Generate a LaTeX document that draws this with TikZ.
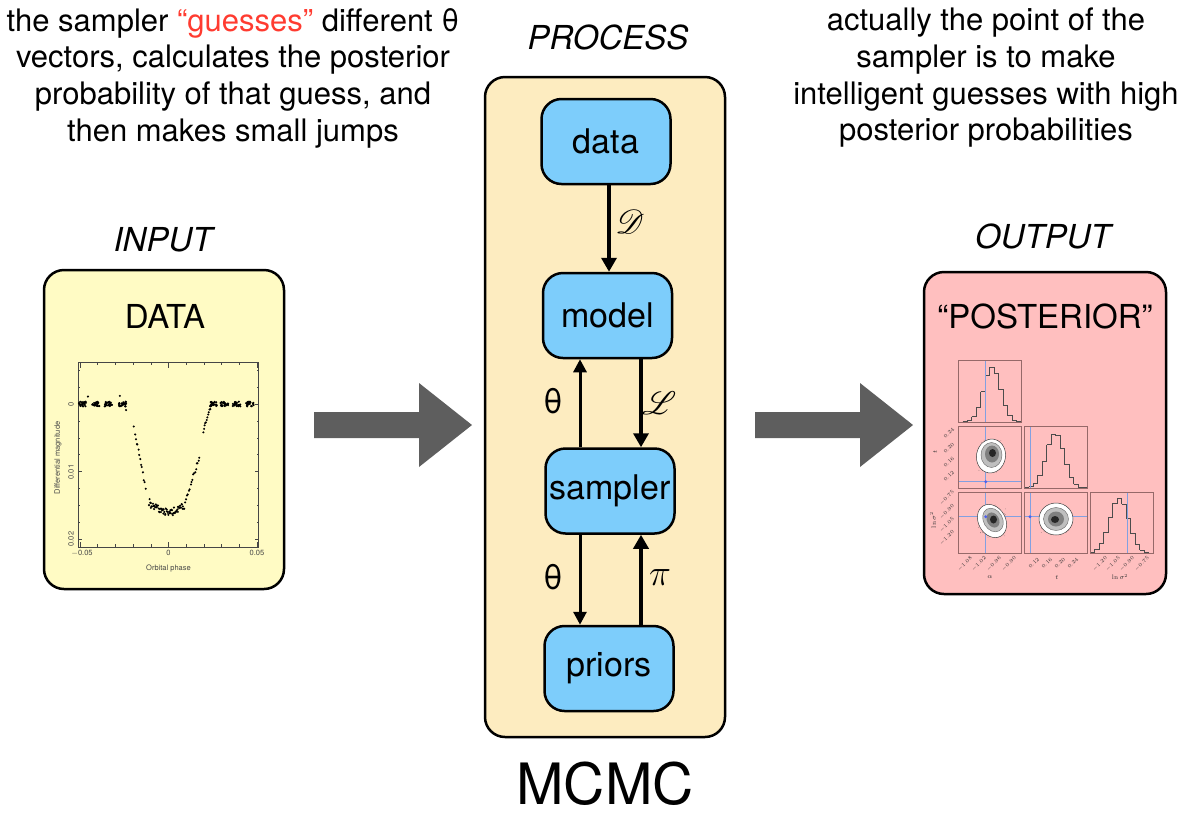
\documentclass[tikz,border=0pt]{standalone}
\usepackage{fix-cm}
\usepackage{graphicx}
\usepackage{mathrsfs}
\usepackage{fontspec}
\setsansfont{TeX Gyre Heros}
\usetikzlibrary{arrows.meta}
\definecolor{procfill}{RGB}{253,236,192}
\definecolor{infill}{RGB}{255,251,196}
\definecolor{outfill}{RGB}{255,191,191}
\definecolor{boxblue}{RGB}{125,205,251}
\definecolor{arrowgray}{RGB}{94,94,94}
\definecolor{guessred}{RGB}{255,59,48}
\definecolor{panelcol}{RGB}{150,105,105}
\definecolor{truthblue}{RGB}{130,160,225}
\definecolor{axiscol}{RGB}{70,70,70}
\newcommand\myhist[6]{%
  \foreach \i in {0,...,13}{%
    \pgfmathsetmacro\xl{#1+\i*#3/14}%
    \pgfmathsetmacro\xr{#1+(\i+1)*#3/14}%
    \pgfmathsetmacro\xc{#1+(\i+0.5)*#3/14}%
    \pgfmathsetmacro\hc{#6*exp(max(-9,-((\xc-#4)*(\xc-#4))/(2*#5*#5)))}%
    \pgfmathsetmacro\hn{#6*exp(max(-9,-((\xc+#3/14-#4)*(\xc+#3/14-#4))/(2*#5*#5)))}%
    \draw[histline] (\xl,#2-\hc) -- (\xr,#2-\hc) -- (\xr,#2-\hn);
  }}
\begin{document}
\begin{tikzpicture}[x=1pt,y=-1pt,
  toptxt/.style={font=\sffamily\fontsize{31}{36.7}\selectfont, align=center, inner sep=0},
  headtxt/.style={font=\sffamily\itshape\fontsize{33}{40}\selectfont, inner sep=0},
  titletxt/.style={font=\sffamily\fontsize{33}{40}\selectfont, inner sep=0},
  bluebox/.style={draw=black, line width=2.5pt, fill=boxblue, rounded corners=20pt,
     minimum width=129pt, minimum height=85pt, inner sep=0,
     font=\sffamily\fontsize{34}{40}\selectfont},
  bigbox/.style={draw=black, line width=2.5pt, rounded corners=20pt, inner sep=0},
  thickarrow/.style={line width=4.2pt, -{Triangle[length=14pt,width=15pt]}},
  thinarrow/.style={line width=3pt, -{Triangle[length=13pt,width=13pt]}},
  arrlbl/.style={inner sep=0, font=\sffamily\fontsize{34}{40}\selectfont},
  scrlbl/.style={inner sep=0, font=\fontsize{24.88}{26}\selectfont},
  histline/.style={draw=black!70, line width=0.6pt},
  panel/.style={draw=panelcol, line width=0.6pt},
  truth/.style={draw=truthblue, line width=0.6pt},
  tinylbl/.style={font=\fontsize{5.2}{6}\selectfont, inner sep=0, text=black!80},
  axlbl/.style={font=\fontsize{6.5}{7}\selectfont, inner sep=0, text=black!80},
  plotlbl/.style={font=\sffamily\fontsize{7.5}{8}\selectfont, inner sep=0, text=axiscol},
  dot/.style={fill=black}
]
\useasboundingbox (0,0) rectangle (1186,815);

% ---------- top texts ----------
\node[toptxt, anchor=north] (lefttxt) at (233,8) {the sampler {\color{guessred}“guesses”} different θ\\ vectors, calculates the posterior\\ probability of that guess, and\\ then makes small jumps};
\node[toptxt, anchor=north] (righttxt) at (986,8) {actually the point of the\\ sampler is to make\\ intelligent guesses with high\\ posterior probabilities};

% ---------- headings ----------
\node[headtxt] (proclbl) at (608,37) {PROCESS};
\node[headtxt] (inlbl) at (163,240) {INPUT};
\node[headtxt] (outlbl) at (1043,236) {OUTPUT};
\node[font=\sffamily\fontsize{57}{60}\selectfont, inner sep=0] (mcmc) at (605,784) {MCMC};

% ---------- process box ----------
\node[bigbox, fill=procfill, minimum width=240pt, minimum height=660pt] (proc) at (605,407) {};
\node[bluebox] (data) at (606,141.5) {data};
\node[bluebox] (model) at (607.5,315.5) {model};
\node[bluebox] (sampler) at (610,491) {sampler};
\node[bluebox] (priors) at (609,668.5) {priors};

\coordinate (colA) at (580,0);
\coordinate (colB) at (641,0);
\coordinate (colD) at (609,0);
\draw[thickarrow] (data.south -| colD) -- (model.north -| colD);
\draw[thinarrow] (sampler.north -| colA) -- (model.south -| colA);
\draw[thickarrow] (model.south -| colB) -- (sampler.north -| colB);
\draw[thinarrow] (sampler.south -| colA) -- (priors.north -| colA);
\draw[thickarrow] (priors.north -| colB) -- (sampler.south -| colB);

\node[scrlbl] (lD) at (630,222) {\scalebox{1.35}{$\mathscr{D}$}};
\node[arrlbl] (lt1) at (553,401) {θ};
\node[scrlbl] (lL) at (659,403) {\scalebox{1.3}{$\mathscr{L}$}};
\node[arrlbl] (lt2) at (553,577) {θ};
\node[inner sep=0, font=\fontsize{37}{37}\selectfont] (lpi) at (660,578) {$\pi$};

% ---------- big arrows ----------
\fill[arrowgray] (314,412) -- (419,412) -- (419,383) -- (472,425) -- (419,467) -- (419,438) -- (314,438) -- cycle;
\fill[arrowgray] (755,412) -- (860,412) -- (860,383) -- (913,425) -- (860,467) -- (860,438) -- (755,438) -- cycle;

% ---------- input box ----------
\node[bigbox, fill=infill, minimum width=240pt, minimum height=319pt] (inbox) at (164,429.5) {};
\node[titletxt] (datalbl) at (165,316) {DATA};
\begin{scope}[shift={(168.5,404)}, x=1.77pt, y=-6.75pt]
  \draw[axiscol, line width=0.6pt] (-51,-6.2) rectangle (51,21.2);
  \foreach \p in {-50,-40,...,50}{
    \draw[axiscol, line width=0.5pt] (\p,21.2) -- (\p,20.8);
    \draw[axiscol, line width=0.5pt] (\p,-6.2) -- (\p,-5.8);}
  \foreach \p in {-50,0,50}{
    \draw[axiscol, line width=0.5pt] (\p,21.2) -- (\p,20.4);
    \draw[axiscol, line width=0.5pt] (\p,-6.2) -- (\p,-5.4);}
  \foreach \m in {-5,-2.5,...,20}{
    \draw[axiscol, line width=0.5pt] (-51,\m) -- (-50,\m);
    \draw[axiscol, line width=0.5pt] (51,\m) -- (50,\m);}
  \foreach \m in {0,10,20}{
    \draw[axiscol, line width=0.5pt] (-51,\m) -- (-49,\m);
    \draw[axiscol, line width=0.5pt] (51,\m) -- (49,\m);}
  \pgfmathsetseed{7}
  \foreach \c in {-48.5,-41,-34,-26,25.5,31.5,38.5,46}{
    \foreach \k in {1,...,24}{
      \fill[dot] ({\c+2.2*rand},{0.35*rand}) circle[radius=1.15pt];}}
  \fill[dot] (-45.5,-1.1) circle[radius=1.15pt];
  \fill[dot] (-27.5,-1.2) circle[radius=1.15pt];
  \fill[dot] (-24,0.9) circle[radius=1.15pt];
  \foreach \p in {-19.5,-19,...,-13}{
    \fill[dot] ({\p+0.2*rand},{(\p+22.2)*1.35+0.4*rand}) circle[radius=1.15pt];}
  \foreach \p in {-11,-10.7,...,9}{
    \fill[dot] ({\p+0.2*rand},{16-0.012*(\p)*(\p)+0.55*rand}) circle[radius=1.15pt];}
  \foreach \p in {9.5,10,...,17.5}{
    \fill[dot] ({\p+0.2*rand},{15-(\p-9)*0.85+0.4*rand}) circle[radius=1.15pt];}
  \foreach \p in {19.6,20,...,24.4}{
    \fill[dot] ({\p+0.1*rand},{(24.5-\p)*0.8+0.3*rand}) circle[radius=1.15pt];}
\end{scope}
\node[plotlbl, rotate=90] (yt0) at (71,404) {0};
\node[plotlbl, rotate=90] (yt1) at (71,472) {0.01};
\node[plotlbl, rotate=90] (yt2) at (71,539) {0.02};
\node[plotlbl] (xt0) at (82,553) {$-$0.05};
\node[plotlbl] (xt1) at (168.5,553) {0};
\node[plotlbl] (xt2) at (257,553) {0.05};
\node[plotlbl, rotate=90] (ylab) at (58,458) {Differential magnitude};
\node[plotlbl] (xlab) at (168.5,569) {Orbital phase};

% ---------- output box ----------
\node[bigbox, fill=outfill, minimum width=242pt, minimum height=322pt] (outbox) at (1045,433) {};
\node[titletxt] (postlbl) at (1045,316) {“POSTERIOR”};

% histograms
\myhist{958}{422}{63}{992}{8.5}{55}
\myhist{1024}{488}{63}{1055}{9}{55}
\myhist{1090}{553}{63}{1119}{9.5}{55}

% scatter panels
\pgfmathsetseed{11}
\begin{scope}
  \clip (958,426) rectangle (1021,488);
  \foreach \k in {1,...,500}{
    \fill[black!70] ({991+5.5*(rand+rand+rand)},{456+6.5*(rand+rand+rand)}) circle[radius=0.3pt];}
  \draw[truth] (985.7,426) -- (985.7,488);
  \draw[truth] (958,481.7) -- (1021,481.7);
  \fill[truthblue!60!blue] (985.7,481.7) circle[radius=1.6pt];
  \filldraw[fill=white, draw=black!75, line width=0.5pt, rotate around={-10:(991,456)}] (991,456) ellipse[x radius=14.5pt, y radius=17pt];
  \filldraw[fill=black!25, draw=black!60, line width=0.4pt] (991.5,455) ellipse[x radius=10.5pt, y radius=12.5pt];
  \fill[black!50] (992,454) ellipse[x radius=7pt, y radius=8.5pt];
  \fill[black!85] (992.5,453) ellipse[x radius=3.5pt, y radius=4pt];
\end{scope}
\begin{scope}
  \clip (958,492) rectangle (1021,553);
  \foreach \k in {1,...,500}{
    \fill[black!70] ({992+5.5*(rand+rand+rand)},{521+6.3*(rand+rand+rand)}) circle[radius=0.3pt];}
  \draw[truth] (985.7,492) -- (985.7,553);
  \draw[truth] (958,516.7) -- (1021,516.7);
  \filldraw[fill=white, draw=black!75, line width=0.5pt, rotate around={30:(992,521)}] (992,521) ellipse[x radius=13.5pt, y radius=17.5pt];
  \filldraw[fill=black!25, draw=black!60, line width=0.4pt, rotate around={30:(993,520)}] (993,520) ellipse[x radius=9.5pt, y radius=12.5pt];
  \fill[black!50, rotate around={30:(993,520)}] (993,520) ellipse[x radius=6pt, y radius=8pt];
  \fill[black!85] (993.5,519.5) ellipse[x radius=3.5pt, y radius=4pt];
  \fill[truthblue!60!blue] (985.7,516.7) circle[radius=1.6pt];
\end{scope}
\begin{scope}
  \clip (1024,492) rectangle (1087,553);
  \foreach \k in {1,...,500}{
    \fill[black!70] ({1056+6.3*(rand+rand+rand)},{520+6*(rand+rand+rand)}) circle[radius=0.3pt];}
  \draw[truth] (1030,492) -- (1030,553);
  \draw[truth] (1024,516.7) -- (1087,516.7);
  \fill[truthblue!60!blue] (1030,516.7) circle[radius=1.6pt];
  \filldraw[fill=white, draw=black!75, line width=0.5pt] (1056,519) ellipse[x radius=17pt, y radius=16pt];
  \filldraw[fill=black!25, draw=black!60, line width=0.4pt] (1056,519) ellipse[x radius=12.5pt, y radius=11.5pt];
  \fill[black!50] (1056,519) ellipse[x radius=8pt, y radius=7.5pt];
  \fill[black!85] (1055,519.5) ellipse[x radius=4pt, y radius=3.5pt];
\end{scope}
% truth lines in histograms
\draw[truth] (985.7,360) -- (985.7,422);
\draw[truth] (1030,426) -- (1030,488);
\draw[truth] (1127,492) -- (1127,553);
% panel frames
\draw[panel] (958,360) rectangle (1021,422);
\draw[panel] (958,426) rectangle (1021,488);
\draw[panel] (1024,426) rectangle (1087,488);
\draw[panel] (958,492) rectangle (1021,553);
\draw[panel] (1024,492) rectangle (1087,553);
\draw[panel] (1090,492) rectangle (1153,553);
% tick labels
\node[tinylbl, rotate=45] (r2a) at (949,433) {0.24};
\node[tinylbl, rotate=45] (r2b) at (949,448) {0.20};
\node[tinylbl, rotate=45] (r2c) at (949,462) {0.16};
\node[tinylbl, rotate=45] (r2d) at (949,476) {0.12};
\node[axlbl, rotate=90] (r2l) at (935,452) {$t$};
\node[tinylbl, rotate=45] (r3a) at (947,498) {$-$0.75};
\node[tinylbl, rotate=45] (r3b) at (947,512) {$-$0.90};
\node[tinylbl, rotate=45] (r3c) at (947,525) {$-$1.05};
\node[tinylbl, rotate=45] (r3d) at (947,538) {$-$1.20};
\node[axlbl, rotate=90] (r3l) at (933,520) {$\ln\sigma^2$};
\node[tinylbl, rotate=45] (c1a) at (965,564) {$-$1.08};
\node[tinylbl, rotate=45] (c1b) at (979,564) {$-$1.02};
\node[tinylbl, rotate=45] (c1c) at (994,564) {$-$0.96};
\node[tinylbl, rotate=45] (c1d) at (1009,564) {$-$0.90};
\node[axlbl] (c1l) at (990,577) {$\alpha$};
\node[tinylbl, rotate=45] (c2a) at (1034,563) {0.12};
\node[tinylbl, rotate=45] (c2b) at (1047,563) {0.16};
\node[tinylbl, rotate=45] (c2c) at (1060,563) {0.20};
\node[tinylbl, rotate=45] (c2d) at (1073,563) {0.24};
\node[axlbl] (c2l) at (1057,577) {$t$};
\node[tinylbl, rotate=45] (c3a) at (1100,564) {$-$1.20};
\node[tinylbl, rotate=45] (c3b) at (1113,564) {$-$1.05};
\node[tinylbl, rotate=45] (c3c) at (1127,564) {$-$0.90};
\node[tinylbl, rotate=45] (c3d) at (1142,564) {$-$0.75};
\node[axlbl] (c3l) at (1120,577) {$\ln\sigma^2$};
\end{tikzpicture}
\end{document}
